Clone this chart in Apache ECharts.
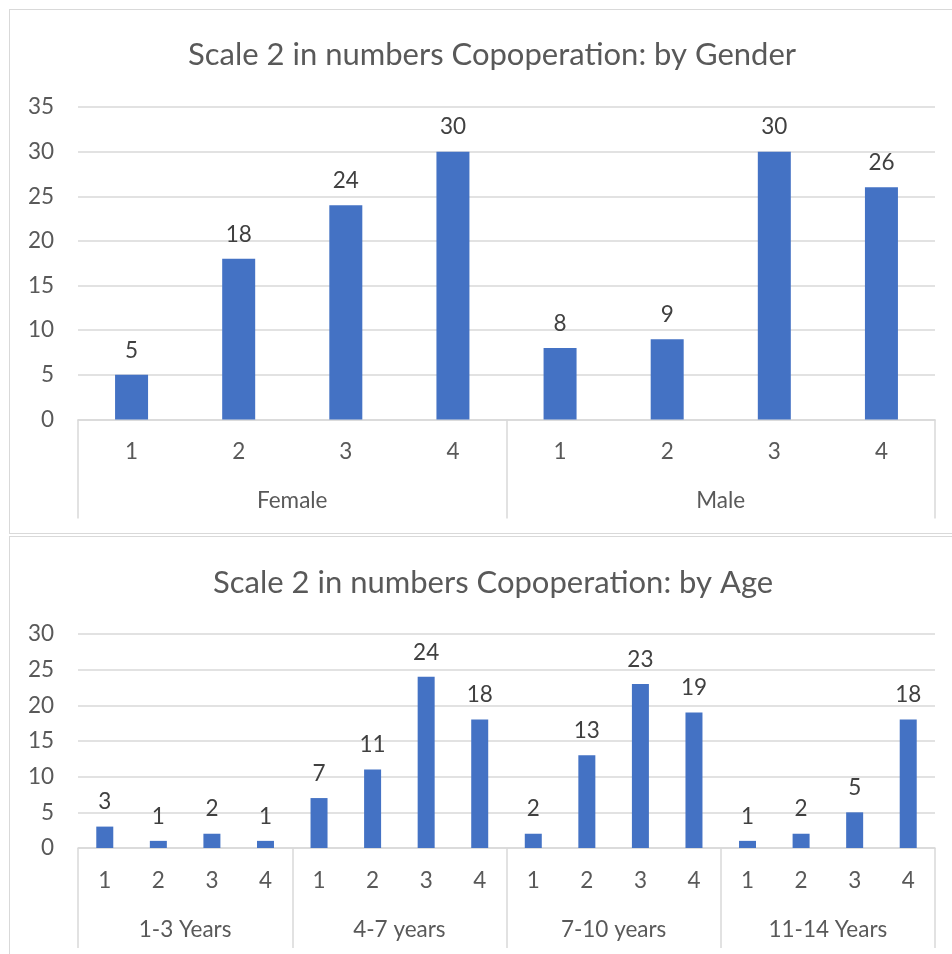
<!DOCTYPE html>
<html>
<head>
<meta charset="utf-8">
<script src="https://cdn.jsdelivr.net/npm/echarts@6/dist/echarts.min.js"></script>
<style>
  html, body { margin: 0; padding: 0; background: #fff; }
  #wrap { position: relative; width: 952px; height: 954px; overflow: hidden; }
  .panel { position: absolute; border: 1.5px solid #d9d9d9; box-sizing: border-box; }
  #chart { position: absolute; left: 0; top: 0; width: 952px; height: 954px; }
</style>
</head>
<body>
<div id="wrap">
  <div class="panel" style="left:9px; top:9px; width:960px; height:525px;"></div>
  <div class="panel" style="left:9px; top:536px; width:960px; height:430px;"></div>
  <div id="chart"></div>
</div>
<script>
// Cooperation scores (scale 2) by gender
const genderTitle = 'Scale 2 in numbers Copoperation: by Gender';
const genderGroups = ['Female', 'Male'];
const genderScores = ['1', '2', '3', '4', '1', '2', '3', '4'];
const genderValues = [5, 18, 24, 30, 8, 9, 30, 26];

// Cooperation scores (scale 2) by age band
const ageTitle = 'Scale 2 in numbers Copoperation: by Age';
const ageGroups = ['1-3 Years', '4-7 years', '7-10 years', '11-14 Years'];
const ageScores = ['1', '2', '3', '4', '1', '2', '3', '4', '1', '2', '3', '4', '1', '2', '3', '4'];
const ageValues = [3, 1, 2, 1, 7, 11, 24, 18, 2, 13, 23, 19, 1, 2, 5, 18];

const genderTicks = [0, 5, 10, 15, 20, 25, 30, 35];
const ageTicks = [0, 5, 10, 15, 20, 25, 30];

const FONT = 'Lato';
const TEXT = '#595959';
const LINE = '#d9d9d9';
const BAR = '#4472C4';
const LABEL_SIZE = 22.5;

function scoreAxis(gridIndex, data, margin) {
  return {
    type: 'category', gridIndex: gridIndex, data: data, position: 'bottom',
    axisLine: { show: true, lineStyle: { color: LINE, width: 1.5 } },
    axisTick: { show: false },
    axisLabel: { color: TEXT, fontSize: LABEL_SIZE, fontFamily: FONT, margin: margin, interval: 0 },
    splitLine: { show: false }
  };
}
function groupAxis(gridIndex, data, margin, tickLen) {
  return {
    type: 'category', gridIndex: gridIndex, data: data, position: 'bottom',
    axisLine: { show: false },
    axisTick: { show: true, length: tickLen, lineStyle: { color: LINE, width: 1.5 } },
    axisLabel: { color: TEXT, fontSize: LABEL_SIZE, fontFamily: FONT, margin: margin, interval: 0 },
    splitLine: { show: false }
  };
}
function valueAxis(gridIndex, ticks) {
  return {
    type: 'value', gridIndex: gridIndex,
    min: ticks[0], max: ticks[ticks.length - 1], interval: ticks[1] - ticks[0],
    axisLine: { show: false }, axisTick: { show: false },
    axisLabel: { color: TEXT, fontSize: LABEL_SIZE, fontFamily: FONT, margin: 24 },
    splitLine: { lineStyle: { color: LINE, width: 1.5 } }
  };
}
function barSeries(xIndex, yIndex, values, width) {
  return {
    type: 'bar', xAxisIndex: xIndex, yAxisIndex: yIndex,
    data: values, barWidth: width,
    itemStyle: { color: BAR },
    label: { show: true, position: 'top', distance: 13, color: '#404040', fontSize: LABEL_SIZE, fontFamily: FONT },
    silent: true
  };
}

const titleStyle = { color: TEXT, fontSize: 31, fontWeight: 'normal', fontFamily: FONT };

const chart = echarts.init(document.getElementById('chart'), null, { renderer: 'canvas' });
chart.setOption({
  animation: false,
  title: [
    { text: genderTitle, left: 183, top: 34, textStyle: titleStyle },
    { text: ageTitle, left: 208, top: 562, textStyle: titleStyle }
  ],
  grid: [
    { left: 78, width: 857, top: 107, height: 312.5 },
    { left: 78, width: 857, top: 634, height: 214 }
  ],
  xAxis: [
    scoreAxis(0, genderScores, 21),
    groupAxis(0, genderGroups, 70, 99),
    scoreAxis(1, ageScores, 21),
    groupAxis(1, ageGroups, 70, 100)
  ],
  yAxis: [valueAxis(0, genderTicks), valueAxis(1, ageTicks)],
  series: [
    barSeries(0, 0, genderValues, 33),
    barSeries(2, 1, ageValues, 17)
  ]
});
</script>
</body>
</html>
